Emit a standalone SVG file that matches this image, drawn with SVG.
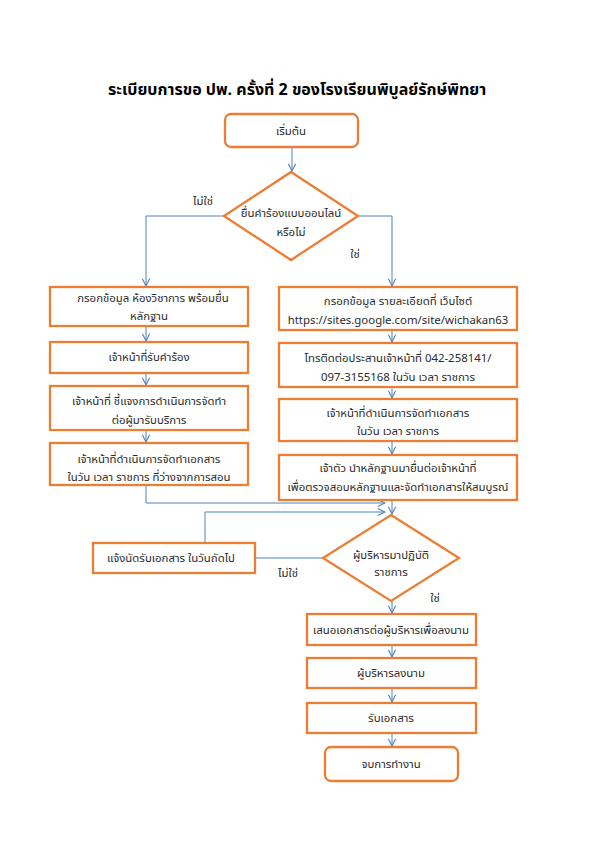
<svg xmlns="http://www.w3.org/2000/svg" width="595" height="842" viewBox="0 0 595 842">
<defs>
<style>
.box{fill:#fff;stroke:#ED7D31;stroke-width:2.3}
.con{fill:none;stroke:#4F81BD;stroke-width:1}
.t{font-family:"Noto Sans Thai","Tahoma","Leelawadee UI","Noto Sans","DejaVu Sans",sans-serif;font-size:11.4px;fill:#2a2a2a;text-anchor:middle;dominant-baseline:central}
.title{font-family:"Noto Sans Thai","Tahoma","Liberation Sans","DejaVu Sans",sans-serif;font-size:16px;font-weight:bold;fill:#000;text-anchor:middle;dominant-baseline:central}
</style>
<marker id="ah" viewBox="0 0 10 10" refX="9" refY="5" markerWidth="9" markerHeight="9" markerUnits="userSpaceOnUse" orient="auto">
<path d="M1,1 L9,5 L1,9" fill="none" stroke="#4F81BD" stroke-width="1.2"/>
</marker>
</defs>
<rect width="595" height="842" fill="#fff"/>
<text class="title" x="297" y="90">ระเบียบการขอ ปพ. ครั้งที่ 2 ของโรงเรียนพิบูลย์รักษ์พิทยา</text>

<g id="connectors">
<path class="con" d="M292,147 V171" marker-end="url(#ah)"/>
<path class="con" d="M224,216 H146 V286" marker-end="url(#ah)"/>
<path class="con" d="M358,216 H392 V286" marker-end="url(#ah)"/>
<path class="con" d="M146,326 V341" marker-end="url(#ah)"/>
<path class="con" d="M146,373 V385" marker-end="url(#ah)"/>
<path class="con" d="M146,430 V442" marker-end="url(#ah)"/>
<path class="con" d="M392,330 V342" marker-end="url(#ah)"/>
<path class="con" d="M392,387 V398" marker-end="url(#ah)"/>
<path class="con" d="M392,441 V454" marker-end="url(#ah)"/>
<path class="con" d="M392,500 V514" marker-end="url(#ah)"/>
<path class="con" d="M146,485 V503 H385" marker-end="url(#ah)"/>
<path class="con" d="M205,543 V512 H385" marker-end="url(#ah)"/>
<path class="con" d="M323,558 H256"/>
<path class="con" d="M392,601 V613" marker-end="url(#ah)"/>
<path class="con" d="M392,645 V657" marker-end="url(#ah)"/>
<path class="con" d="M392,688 V702" marker-end="url(#ah)"/>
<path class="con" d="M392,733 V746" marker-end="url(#ah)"/>
<text class="t" x="203" y="201">ไม่ใช่</text>
<text class="t" x="355" y="254">ใช่</text>
<text class="t" x="288" y="573">ไม่ใช่</text>
<text class="t" x="435" y="598">ใช่</text>
</g>

<g id="start">
<rect class="box" x="225" y="114" width="133" height="33" rx="6"/>
<text class="t" x="291" y="131">เริ่มต้น</text>
</g>
<g id="decision1">
<polygon class="box" points="291,172 358,216 291,260 224,216"/>
<text class="t" x="291" y="213">ยื่นคำร้องแบบออนไลน์</text>
<text class="t" x="291" y="232">หรือไม่</text>
</g>

<g id="left1">
<rect class="box" x="50" y="287" width="198" height="39"/>
<text class="t" x="153" y="298">กรอกข้อมูล ห้องวิชาการ พร้อมยื่น</text>
<text class="t" x="149" y="316">หลักฐาน</text>
</g>
<g id="left2">
<rect class="box" x="50" y="342" width="198" height="31"/>
<text class="t" x="149" y="357">เจ้าหน้าที่รับคำร้อง</text>
</g>
<g id="left3">
<rect class="box" x="50" y="386" width="198" height="44"/>
<text class="t" x="149" y="401">เจ้าหน้าที่ ชี้แจงการดำเนินการจัดทำ</text>
<text class="t" x="149" y="420">ต่อผู้มารับบริการ</text>
</g>
<g id="left4">
<rect class="box" x="50" y="443" width="198" height="42"/>
<text class="t" x="149" y="459">เจ้าหน้าที่ดำเนินการจัดทำเอกสาร</text>
<text class="t" x="149" y="477">ในวัน เวลา ราชการ ที่ว่างจากการสอน</text>
</g>

<g id="right1">
<rect class="box" x="279" y="287" width="238" height="43"/>
<text class="t" x="398" y="301">กรอกข้อมูล รายละเอียดที่ เว็บไซต์</text>
<text class="t" x="398" y="320">https://sites.google.com/site/wichakan63</text>
</g>
<g id="right2">
<rect class="box" x="279" y="343" width="238" height="44"/>
<text class="t" x="398" y="358">โทรติดต่อประสานเจ้าหน้าที่ 042-258141/</text>
<text class="t" x="398" y="377">097-3155168  ในวัน เวลา ราชการ</text>
</g>
<g id="right3">
<rect class="box" x="279" y="399" width="238" height="42"/>
<text class="t" x="398" y="413">เจ้าหน้าที่ดำเนินการจัดทำเอกสาร</text>
<text class="t" x="398" y="431">ในวัน เวลา ราชการ</text>
</g>
<g id="right4">
<rect class="box" x="279" y="455" width="238" height="45"/>
<text class="t" x="398" y="468">เจ้าตัว นำหลักฐานมายื่นต่อเจ้าหน้าที่</text>
<text class="t" x="398" y="487">เพื่อตรวจสอบหลักฐานและจัดทำเอกสารให้สมบูรณ์</text>
</g>

<g id="appointment">
<rect class="box" x="93" y="543" width="162" height="30"/>
<text class="t" x="171" y="558">แจ้งนัดรับเอกสาร ในวันถัดไป</text>
</g>
<g id="decision2">
<polygon class="box" points="391,515 459,558 391,601 323,558"/>
<text class="t" x="391" y="555">ผู้บริหารมาปฏิบัติ</text>
<text class="t" x="391" y="572">ราชการ</text>
</g>
<g id="sign-request">
<rect class="box" x="307" y="614" width="169" height="31"/>
<text class="t" x="391" y="630">เสนอเอกสารต่อผู้บริหารเพื่อลงนาม</text>
</g>
<g id="sign">
<rect class="box" x="307" y="658" width="169" height="30"/>
<text class="t" x="391" y="673">ผู้บริหารลงนาม</text>
</g>
<g id="receive">
<rect class="box" x="307" y="703" width="169" height="30"/>
<text class="t" x="391" y="718">รับเอกสาร</text>
</g>
<g id="end">
<rect class="box" x="325" y="747" width="133" height="34" rx="6"/>
<text class="t" x="391" y="764">จบการทำงาน</text>
</g>
</svg>
